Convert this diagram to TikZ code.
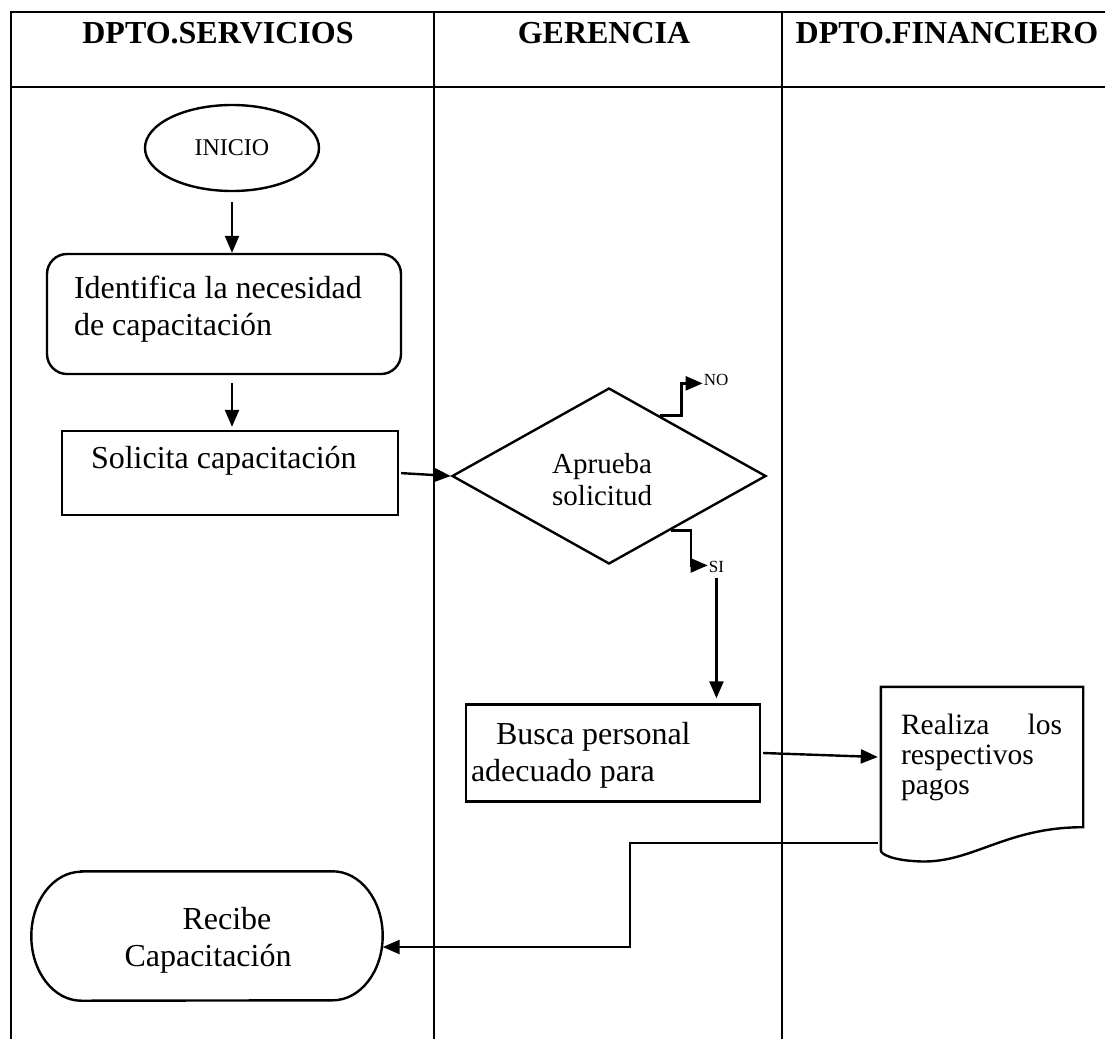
\documentclass[tikz,border=0pt]{standalone}
\usepackage{fontspec}
\setmainfont{Liberation Serif}
\usetikzlibrary{shapes.geometric,arrows.meta,calc}

\newcommand\bodyfont{\fontsize{32}{37}\selectfont}
\newcommand\midfont{\fontsize{29.5}{30}\selectfont}
\newcommand\hdrfont{\fontsize{32}{37}\selectfont\bfseries}
\newcommand\startfont{\fontsize{24}{28}\selectfont}
\newcommand\tagfont{\fontsize{17}{20}\selectfont}

\tikzset{
  lane/.style={line width=2.6pt},
  hdr/.style={font=\hdrfont, anchor=base},
  shp/.style={draw, line width=2.4pt, inner sep=0pt},
  outline/.style={line width=2.4pt},
  txt/.style={font=\bodyfont, inner sep=0pt, anchor=base west},
  arr/.style={line width=2.4pt, -{Triangle[length=17pt,width=14pt]}},
  tag/.style={font=\tagfont, inner sep=1pt},
}

\begin{document}
\begin{tikzpicture}[x=1pt,y=-1pt]
\useasboundingbox (0,0) rectangle (1105,1039);

% swimlane frame
\draw[lane] (11,1039) -- (11,12) -- (1105,12);
\draw[lane] (11,87) -- (1105,87);
\draw[lane] (434,12) -- (434,1039);
\draw[lane] (782,12) -- (782,1039);

\node[hdr] (h1) at (218,43) {DPTO.SERVICIOS};
\node[hdr] (h2) at (604,43) {GERENCIA};
\node[hdr] (h3) at (947,43) {DPTO.FINANCIERO};

% flow shapes
\node[shp, ellipse, minimum width=174, minimum height=86, font=\startfont] (inicio) at (232,148) {INICIO};
\node[shp, rounded corners=20pt, minimum width=354, minimum height=120] (ident) at (224,314) {};
\node[shp, minimum width=336, minimum height=84] (sol) at (230,473) {};
\node[shp, diamond, aspect=1.78, minimum width=314, minimum height=176] (dec) at (609,476) {};
\node[shp, minimum width=294, minimum height=97] (busca) at (613,753) {};

% document symbol with a wavy lower edge
\node[inner sep=0pt, minimum width=202, minimum height=140] (pagos) at (982,757) {};
\draw[outline] (pagos.north west) -- (pagos.north east) -- (pagos.south east)
  .. controls ($(pagos.south east)+(-80,0)$) and ($(pagos.south west)+(90,38)$) .. ($(pagos.south west)+(35,34)$)
  .. controls ($(pagos.south west)+(15,33)$) and ($(pagos.south west)+(0,28)$) .. ($(pagos.south west)+(0,23)$)
  -- cycle;

% terminator with half-ellipse ends
\node[inner sep=0pt, minimum width=351, minimum height=129] (recibe) at (207,936) {};
\draw[outline] ($(recibe.north west)+(50,0)$) -- ($(recibe.north east)+(-50,0)$)
  arc[start angle=90, end angle=-90, x radius=50pt, y radius=64.5pt]
  -- ($(recibe.south west)+(50,0)$)
  arc[start angle=270, end angle=90, x radius=50pt, y radius=64.5pt] -- cycle;

% texts inside the shapes
\node[txt] (identA) at ($(ident.north west)+(28,46)$) {Identifica la necesidad};
\node[txt] (identB) at ($(ident.north west)+(28,83)$) {de capacitación};
\node[txt] (solA) at ($(sol.north west)+(30,39)$) {Solicita capacitación};
\node[txt, font=\fontsize{29}{31}\selectfont] (decA) at ($(dec.center)+(-57,-3)$) {Aprueba};
\node[txt, font=\fontsize{29}{31}\selectfont] (decB) at ($(dec.center)+(-57,29)$) {solicitud};
\node[txt] (buscaA) at ($(busca.north west)+(31,41)$) {Busca personal};
\node[txt] (buscaB) at ($(busca.north west)+(6,78)$) {adecuado para};
\node[txt, font=\midfont] (pagosA) at ($(pagos.north west)+(20,48)$) {Realiza};
\node[txt, font=\midfont, anchor=base east] (pagosA2) at ($(pagos.north east)+(-21,48)$) {los};
\node[txt, font=\midfont] (pagosB) at ($(pagos.north west)+(20,78)$) {respectivos};
\node[txt, font=\midfont] (pagosC) at ($(pagos.north west)+(20,108)$) {pagos};
\node[txt] (recibeA) at ($(recibe.north west)+(151,58)$) {Recibe};
\node[txt] (recibeB) at ($(recibe.north west)+(93,95)$) {Capacitación};

% connectors
\draw[arr, shorten <=10pt] (inicio.south) -- (inicio.south |- ident.north);
\draw[arr, shorten <=8pt, shorten >=3pt] (ident.south -| inicio.south) -- (sol.north -| inicio.south);
\draw[arr, shorten <=2pt] (sol.east) -- (dec.west);

\coordinate (noA) at ($(dec.north)!0.32!(dec.east)$);
\draw[arr] (noA) -- ++(22,0) -- ++(0,-32) -- ++(21,0) coordinate (noEnd);
\node[tag, anchor=base west] (nolbl) at ($(noEnd)+(0,2)$) {NO};

\coordinate (siA) at ($(dec.south)!0.39!(dec.east)$);
\draw[arr] (siA) -- ++(20,0) -- ++(0,35) -- ++(17,0) coordinate (siEnd);
\node[tag, anchor=base west] (silbl) at ($(siEnd)+(0,7)$) {SI};
\draw[arr, shorten <=4pt, shorten >=5pt] (silbl.south) -- (silbl.south |- busca.north);

\draw[arr] ($(busca.east)+(2,0)$) -- ($(pagos.west)+(-3,0)$);

\coordinate (turn) at (630,947);
\draw[arr] ($(pagos.south west)+(-3,16)$) -| (turn) -- (turn -| recibe.east);
\end{tikzpicture}
\end{document}
